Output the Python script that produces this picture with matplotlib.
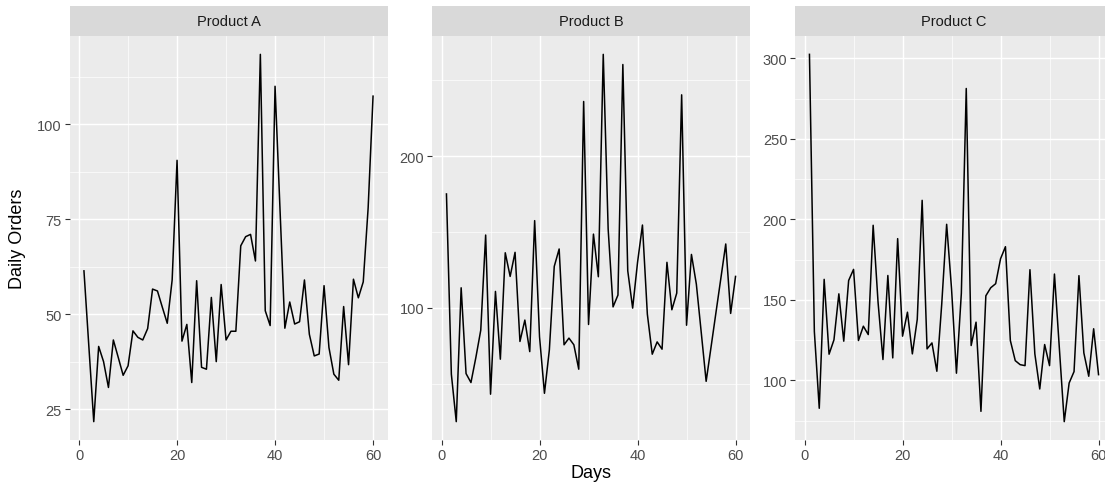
import matplotlib
matplotlib.use("Agg")
import matplotlib.pyplot as plt
from matplotlib.ticker import FixedLocator

plt.rcParams['font.family'] = ['Liberation Sans', 'DejaVu Sans']

days = list(range(1, 61))
products = ["Product A", "Product B", "Product C"]

product_a = [61.4, 41.5, 21.7, 41.5, 37.5, 30.7, 43.2, 38.6, 33.9, 36.4,
             45.6, 43.9, 43.2, 46.2, 56.6, 56.1, 51.8, 47.6, 59.0, 90.5,
             42.9, 47.3, 32.0, 58.8, 36.0, 35.5, 54.4, 37.5, 57.8, 43.2,
             45.5, 45.5, 68.0, 70.4, 71.0, 64.0, 118.4, 50.9, 47.0, 110.0,
             78.0, 46.3, 53.2, 47.4, 48.0, 59.0, 44.7, 39.0, 39.5, 57.5,
             41.2, 34.2, 32.6, 52.0, 36.7, 59.2, 54.3, 58.5, 78.0, 107.4]

product_b = [175.1, 56.2, 24.9, 113.2, 56.6, 50.7, 67.2, 85.2, 148.0, 43.0,
             110.8, 66.1, 136.3, 120.7, 136.6, 77.8, 91.9, 71.1, 157.5, 80.8,
             43.6, 72.2, 127.3, 138.8, 75.6, 80.0, 75.6, 59.5, 236.1, 89.0,
             148.6, 120.5, 267.2, 152.0, 100.6, 108.4, 260.5, 124.4, 99.8, 130.0,
             154.6, 95.8, 69.4, 77.5, 72.7, 130.0, 98.7, 109.7, 240.5, 88.5,
             135.2, 115.6, 83.7, 51.5, 74.1, 96.8, 119.4, 142.1, 96.3, 120.7]

product_c = [302.5, 130.3, 82.6, 162.7, 116.2, 125.1, 153.7, 124.3, 162.0, 168.9,
             124.7, 133.6, 128.4, 196.3, 148.5, 112.9, 165.1, 113.9, 188.0, 127.4,
             142.3, 116.4, 137.8, 211.8, 119.5, 123.2, 105.6, 147.5, 196.9, 156.8,
             104.4, 154.1, 281.3, 121.6, 136.1, 80.7, 152.5, 157.5, 160.0, 175.5,
             183.0, 124.7, 112.2, 109.7, 109.1, 168.7, 116.4, 94.6, 122.2, 109.1,
             166.0, 120.0, 74.3, 98.3, 105.4, 165.0, 117.0, 102.5, 132.0, 103.5]

x_ticks = [0, 20, 40, 60]
y_ticks_a = [25, 50, 75, 100]
y_ticks_b = [100, 200]
y_ticks_c = [100, 150, 200, 250, 300]

series = [product_a, product_b, product_c]
yticks = [y_ticks_a, y_ticks_b, y_ticks_c]

W, H = 1105, 485
fig = plt.figure(figsize=(W / 100, H / 100), dpi=100)
fig.patch.set_facecolor("white")

panel_left = [69.5, 432.0, 795.0]
panel_w = 318.0
top, bottom = 37.0, 441.0
strip_top = 7.0

for i, (name, vals, yt) in enumerate(zip(products, series, yticks)):
    l = panel_left[i]
    ax = fig.add_axes([l / W, (H - bottom) / H, panel_w / W, (bottom - top) / H])
    ax.set_facecolor("#EBEBEB")
    ax.plot(days, vals, color="black", lw=1.1, zorder=3)
    ax.margins(x=0.05, y=0.05)
    ax.xaxis.set_major_locator(FixedLocator(x_ticks))
    ax.xaxis.set_minor_locator(FixedLocator([10, 30, 50]))
    ax.yaxis.set_major_locator(FixedLocator(yt))
    step = yt[1] - yt[0]
    minors = [yt[0] - step / 2] + [v + step / 2 for v in yt]
    ax.yaxis.set_minor_locator(FixedLocator(minors))
    ax.grid(which="major", color="white", lw=1.05, zorder=1)
    ax.grid(which="minor", color="white", lw=0.5, zorder=1)
    ax.set_axisbelow(True)
    for s in ax.spines.values():
        s.set_visible(False)
    ax.tick_params(which="major", length=3.5, width=0.8, color="#333333",
                   labelcolor="#4D4D4D", labelsize=10.5, pad=2)
    ax.tick_params(which="minor", length=0)
    ax.set_xticklabels([str(t) for t in x_ticks])
    ax.set_yticklabels([str(t) for t in yt])

    sax = fig.add_axes([l / W, (H - top) / H, panel_w / W, (top - strip_top) / H])
    sax.set_facecolor("#D9D9D9")
    sax.set_xticks([])
    sax.set_yticks([])
    for s in sax.spines.values():
        s.set_visible(False)
    sax.text(0.5, 0.5, name, ha="center", va="center", fontsize=10.5,
             color="#1A1A1A", transform=sax.transAxes)

fig.text(591 / W, 1 - 474 / H, "Days", ha="center", va="center",
         fontsize=13, color="black")
fig.text(18 / W, 1 - 239 / H, "Daily Orders", ha="center", va="center",
         rotation=90, fontsize=13, color="black")

fig.savefig("out.png", dpi=100)
